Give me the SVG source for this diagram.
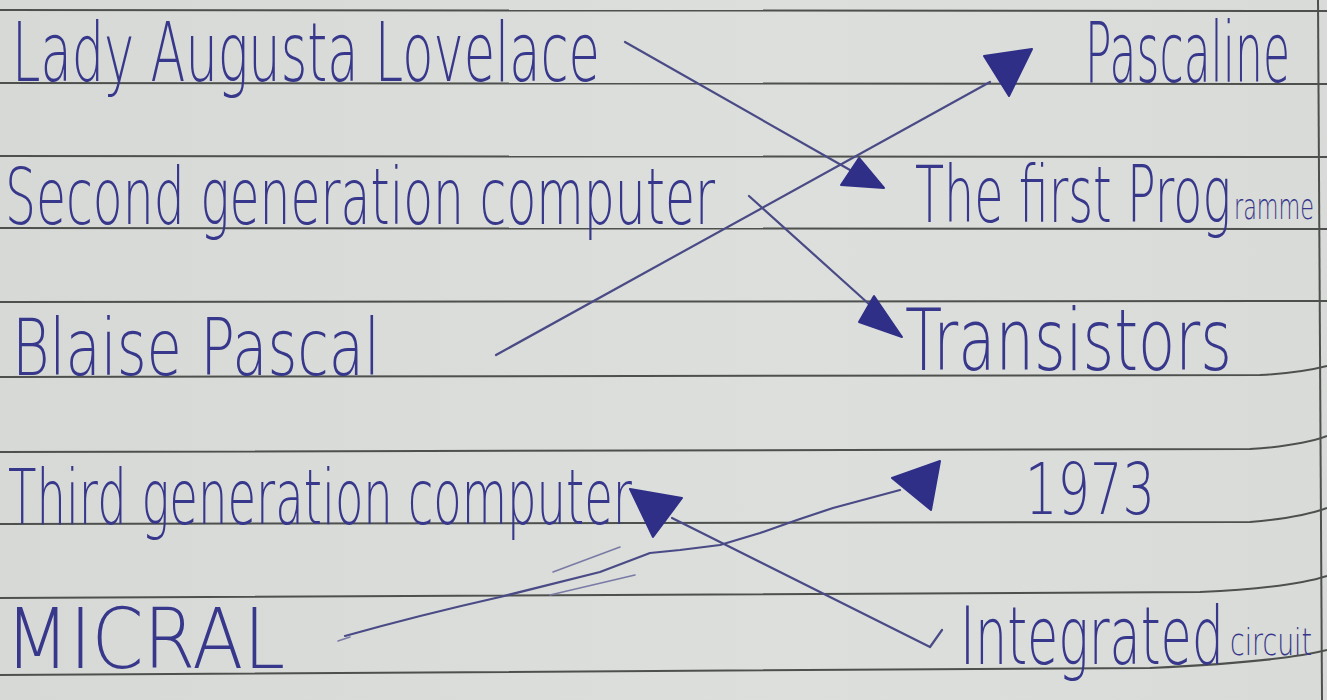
<svg xmlns="http://www.w3.org/2000/svg" width="1327" height="700" viewBox="0 0 1327 700">
<style>
.rule{fill:none;stroke:#4e504e;stroke-width:2}
.ink{fill:#37378c;font-family:"DejaVu Sans","Liberation Sans",sans-serif;font-weight:200}
.pen{fill:none;stroke:#4a4a86;stroke-width:2.2;stroke-linecap:round;stroke-linejoin:round}
.faint{fill:none;stroke:#7a7aa6;stroke-width:1.6;stroke-linecap:round}
.head{fill:#2f2f88;stroke:#2f2f88;stroke-width:2;stroke-linejoin:round}
</style>
<defs>
<linearGradient id="paper" x1="0" y1="0" x2="1" y2="0">
<stop offset="0" stop-color="#d6d9d5"/>
<stop offset="0.6" stop-color="#dcdfdb"/>
<stop offset="1" stop-color="#d8dbd7"/>
</linearGradient>
</defs>
<rect x="0" y="0" width="1327" height="700" fill="url(#paper)"/>
<g id="ruling">
<path class="rule" d="M0 10 L1327 11"/>
<path class="rule" d="M0 83 L1327 84"/>
<path class="rule" d="M0 156 L1327 157"/>
<path class="rule" d="M0 228 L1327 229"/>
<path class="rule" d="M0 302 L1327 301"/>
<path class="rule" d="M0 377 L1260 375 Q1300 373 1327 366"/>
<path class="rule" d="M0 452 L1250 449 Q1300 446 1327 436"/>
<path class="rule" d="M0 524 L1250 522 Q1300 518 1327 508"/>
<path class="rule" d="M0 598 L1200 592 Q1290 588 1327 576"/>
<path class="rule" d="M0 675 L1150 668 Q1280 662 1327 650"/>
<path class="rule" d="M1318 0 L1322 700" stroke-width="2.5"/>
</g>
<g id="node-lovelace"><text class="ink" x="12" y="81" font-size="82" textLength="588" lengthAdjust="spacingAndGlyphs">Lady Augusta Lovelace</text></g>
<g id="node-second"><text class="ink" x="5" y="224" font-size="78" textLength="710" lengthAdjust="spacingAndGlyphs">Second generation computer</text></g>
<g id="node-pascal"><text class="ink" x="12" y="375" font-size="78" textLength="368" lengthAdjust="spacingAndGlyphs">Blaise Pascal</text></g>
<g id="node-third"><text class="ink" x="8" y="524" font-size="76" textLength="624" lengthAdjust="spacingAndGlyphs">Third generation computer</text></g>
<g id="node-micral"><text class="ink" x="5" y="668" font-size="84" textLength="280" lengthAdjust="spacingAndGlyphs">MICRAL</text></g>
<g id="node-pascaline"><text class="ink" x="1085" y="82" font-size="84" textLength="205" lengthAdjust="spacingAndGlyphs">Pascaline</text></g>
<g id="node-programme"><text class="ink" x="915" y="222" font-size="78" textLength="316" lengthAdjust="spacingAndGlyphs">The first Prog</text><text class="ink" x="1234" y="219" font-size="36" textLength="80" lengthAdjust="spacingAndGlyphs">ramme</text></g>
<g id="node-transistors"><text class="ink" x="905" y="370" font-size="86" textLength="327" lengthAdjust="spacingAndGlyphs">Transistors</text></g>
<g id="node-1973"><text class="ink" x="1025" y="514" font-size="72" textLength="130" lengthAdjust="spacingAndGlyphs">1973</text></g>
<g id="node-integrated"><text class="ink" x="960" y="664" font-size="80" textLength="264" lengthAdjust="spacingAndGlyphs">Integrated</text><text class="ink" x="1230" y="655" font-size="38" textLength="82" lengthAdjust="spacingAndGlyphs">circuit</text></g>
<g id="connectors">
<path class="pen" d="M625 42 L850 170"/>
<polygon class="head" points="859,158 841,185 884,188"/>
<path class="pen" d="M496 355 L990 82"/>
<polygon class="head" points="984,56 1032,49 1009,96"/>
<path class="pen" d="M749 196 L870 305"/>
<polygon class="head" points="874,296 859,322 902,337"/>
<path class="pen" d="M942 630 L930 647 L672 518"/>
<polygon class="head" points="630,489 682,498 653,537"/>
<path class="pen" d="M345 636 Q420 615 500 597 Q560 582 600 572 L650 553 L680 550 L720 545 L760 533 L797 520 L833 508 L900 490"/>
<path class="faint" d="M338 641 L350 637"/>
<path class="faint" d="M553 572 L620 547"/>
<path class="faint" d="M550 595 L635 575"/>
<polygon class="head" points="892,478 940,461 931,510"/>
</g>
</svg>
